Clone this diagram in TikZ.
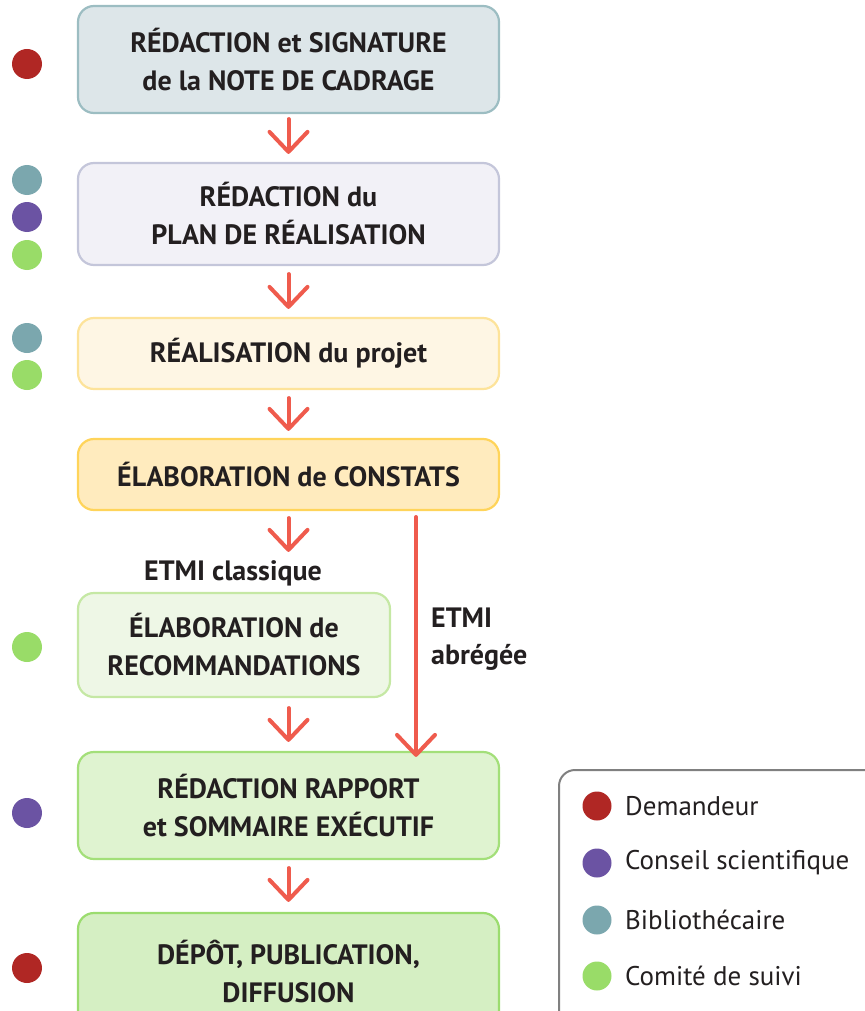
\documentclass[tikz,border=0pt]{standalone}
\usepackage{fontspec}
\setmainfont{PT Sans}
\usetikzlibrary{arrows.meta}
\definecolor{cRed}{HTML}{B02724}
\definecolor{cPurple}{HTML}{6B53A3}
\definecolor{cTeal}{HTML}{7BA7AE}
\definecolor{cGreen}{HTML}{99DC68}
\definecolor{cArrow}{HTML}{EF5B4D}
\definecolor{cText}{HTML}{231F20}
\tikzset{
  box/.style={draw, line width=2.2pt, rounded corners=16pt, align=center,
    font=\fontsize{28}{38}\selectfont\bfseries, text=cText, inner sep=0pt},
  dot/.style={circle, minimum size=30pt, inner sep=0pt},
  flow/.style={draw=cArrow, line width=4pt, line cap=round,
    -{Straight Barb[length=20pt,width=38pt,round]}},
  lbl/.style={font=\fontsize{28}{38}\selectfont\bfseries, text=cText, inner sep=0pt},
  leg/.style={font=\fontsize{27}{30}\selectfont, text=cText, inner sep=0pt, anchor=west},
}
\begin{document}
\begin{tikzpicture}[x=1pt,y=-1pt]
\useasboundingbox (0,0) rectangle (864,1011);
% boxes
\node[box, draw=cTeal!75, fill={rgb,255:red,221;green,230;blue,233}, minimum width=421pt, minimum height=107pt] (b1) at (288.5,59.5) {RÉDACTION et SIGNATURE\\de la NOTE DE CADRAGE};
\node[box, draw={rgb,255:red,196;green,198;blue,218}, fill={rgb,255:red,242;green,241;blue,247}, minimum width=421pt, minimum height=102pt] (b2) at (288.5,214) {RÉDACTION du\\PLAN DE RÉALISATION};
\node[box, draw={rgb,255:red,253;green,227;blue,154}, fill={rgb,255:red,254;green,246;blue,228}, minimum width=421pt, minimum height=71pt] (b3) at (288.5,353.5) {RÉALISATION du projet};
\node[box, draw={rgb,255:red,255;green,212;blue,90}, fill={rgb,255:red,255;green,235;blue,190}, minimum width=421pt, minimum height=71pt] (b4) at (288.5,474.5) {ÉLABORATION de CONSTATS};
\node[box, draw={rgb,255:red,197;green,232;blue,164}, fill={rgb,255:red,238;green,247;blue,230}, minimum width=312pt, minimum height=104pt] (b5) at (234,645) {ÉLABORATION de\\RECOMMANDATIONS};
\node[box, draw={rgb,255:red,163;green,223;blue,121}, fill={rgb,255:red,223;green,243;blue,208}, minimum width=421pt, minimum height=107pt] (b6) at (288.5,805.5) {RÉDACTION RAPPORT\\et SOMMAIRE EXÉCUTIF};
\node[box, draw={rgb,255:red,155;green,220;blue,110}, fill={rgb,255:red,213;green,239;blue,195}, minimum width=421pt, minimum height=118pt] (b7) at (288.5,972) {DÉPÔT, PUBLICATION,\\DIFFUSION};
% arrows
\draw[flow, shorten <=5pt, shorten >=8pt] (b1.south) -- (b2.north);
\draw[flow, shorten <=8pt, shorten >=8pt] (b2.south) -- (b3.north);
\draw[flow, shorten <=8pt, shorten >=7pt] (b3.south) -- (b4.north);
\draw[flow, shorten <=7pt, shorten >=40pt] (b4.south) -- (b5.north -| b4.south);
\draw[flow, shorten <=10pt, shorten >=9pt] (b5.south -| b4.south) -- (b6.north);
\draw[flow, shorten <=8pt, shorten >=10pt] (b6.south) -- (b7.north);
\coordinate (abr) at (416,510);
\draw[flow, shorten <=7pt, shorten >=-6pt] (abr) -- (abr |- b6.north);
% labels
\node[lbl] (lclass) at (233,573) {ETMI classique};
\node[lbl, anchor=west] (labr1) at (431,618) {ETMI};
\node[lbl, anchor=west] (labr2) at (431,657) {abrégée};
% role dots
\node[dot, fill=cRed] (d1) at (27,64) {};
\node[dot, fill=cTeal] (d2a) at (27,180) {};
\node[dot, fill=cPurple] (d2b) at (27,217) {};
\node[dot, fill=cGreen] (d2c) at (27,255) {};
\node[dot, fill=cTeal] (d3a) at (27,338) {};
\node[dot, fill=cGreen] (d3b) at (27,375) {};
\node[dot, fill=cGreen] (d5) at (27,647) {};
\node[dot, fill=cPurple] (d6) at (27,813) {};
\node[dot, fill=cRed] (d7) at (27,968) {};
% legend
\node[draw={rgb,255:red,128;green,128;blue,128}, line width=2pt, rounded corners=16pt, minimum width=330pt, minimum height=270pt, anchor=north west] (legend) at (558,769) {};
\node[dot, fill=cRed, minimum size=29pt] (l1) at (597,806) {};
\node[dot, fill=cPurple, minimum size=29pt] (l2) at (597,863) {};
\node[dot, fill=cTeal, minimum size=29pt] (l3) at (597,920) {};
\node[dot, fill=cGreen, minimum size=29pt] (l4) at (597,976) {};
\node[leg] (t1) at (625,806) {Demandeur};
\node[leg] (t2) at (625,863) {Conseil scientifique};
\node[leg] (t3) at (625,920) {Bibliothécaire};
\node[leg] (t4) at (625,976) {Comité de suivi};
\end{tikzpicture}
\end{document}
